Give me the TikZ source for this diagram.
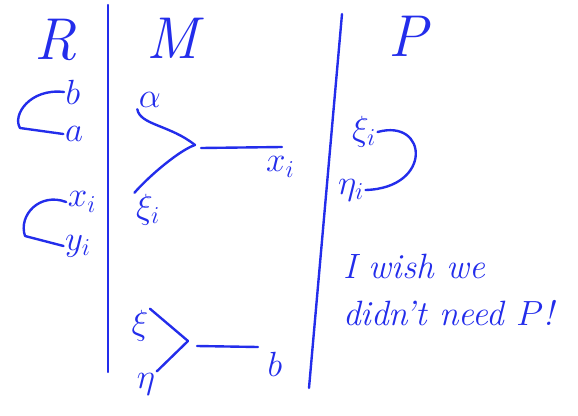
\documentclass[tikz,border=0pt]{standalone}
\usepackage{xcolor}
\usepackage{tikz}
\usetikzlibrary{positioning, calc}

\definecolor{handblue}{RGB}{35,45,235}

\begin{document}
\begin{tikzpicture}[
    x=0.025cm, y=-0.025cm,
    hand/.style={draw=handblue, line width=1.7pt, line cap=round, line join=round},
    head/.style={text=handblue, font=\itshape\fontsize{42}{46}\selectfont, inner sep=0pt},
    lbl/.style={text=handblue, font=\fontsize{24}{28}\selectfont, inner sep=1pt},
    note/.style={text=handblue, font=\itshape\fontsize{25}{33}\selectfont, align=left, inner sep=0pt}
]
\useasboundingbox (0,0) rectangle (578,415);

% ==========================================
% COLUMNAS: R | M | P
% ==========================================
\node[head] (colR) at (56,40) {R};
\node[head] (colM) at (172,38) {M};
\node[head] (colP) at (408,36) {P};

\coordinate (d1top) at (108,5);
\coordinate (d1bot) at (108,372);
\coordinate (d2top) at (342,14);
\coordinate (d2bot) at (309,388);
\draw[hand] (d1top) -- (d1bot);
\draw[hand] (d2top) -- (d2bot);

% ==========================================
% R: pares
% ==========================================
\node[lbl] (rb) at (73,92) {$b$};
\node[lbl] (ra) at (74,134) {$a$};
\node[lbl] (rx) at (82,202) {$x_i$};
\node[lbl] (ry) at (78,246) {$y_i$};

\draw[hand] (rb.west) .. controls (30,88) and (12,115) .. (20,128) -- (ra.west);
\draw[hand] (rx.west) .. controls (40,192) and (18,215) .. (25,236) -- (ry.west);

% ==========================================
% M: mezclas
% ==========================================
\node[lbl] (malpha) at (150,100) {$\alpha$};
\node[lbl] (mxi) at (148,210) {$\xi_i$};
\coordinate (j1) at (195,145);
\coordinate (e1) at (282,147);
\node[lbl, below left=0.2cm and -0.35cm of e1] (mx) {$x_i$};

\draw[hand] (malpha.south west) .. controls (140,125) and (170,125) .. (j1);
\draw[hand] (mxi.north west) .. controls (150,175) and (180,150) .. (j1);
\draw[hand] ($(j1)+(6,3)$) -- (e1);

\node[lbl] (mxi2) at (140,326) {$\xi$};
\node[lbl] (meta) at (146,384) {$\eta$};
\coordinate (j2) at (188,341);
\coordinate (e2) at (258,347);
\node[lbl, below right=0.1cm and 0.2cm of e2] (mb) {$b$};

\foreach \i in {mxi2.north east, meta.north east} {
    \draw[hand] (\i) -- (j2);
}
\draw[hand] ($(j2)+(9,5)$) -- (e2);

% ==========================================
% P
% ==========================================
\node[lbl] (pxi) at (364,132) {$\xi_i$};
\node[lbl] (peta) at (351,190) {$\eta_i$};
\draw[hand] (pxi.east) .. controls (428,118) and (433,188) .. (peta.east);

% Nota
\node[note, anchor=north west] (wish) at (343,254) {I wish we\\didn't need $P$!};

\end{tikzpicture}
\end{document}
